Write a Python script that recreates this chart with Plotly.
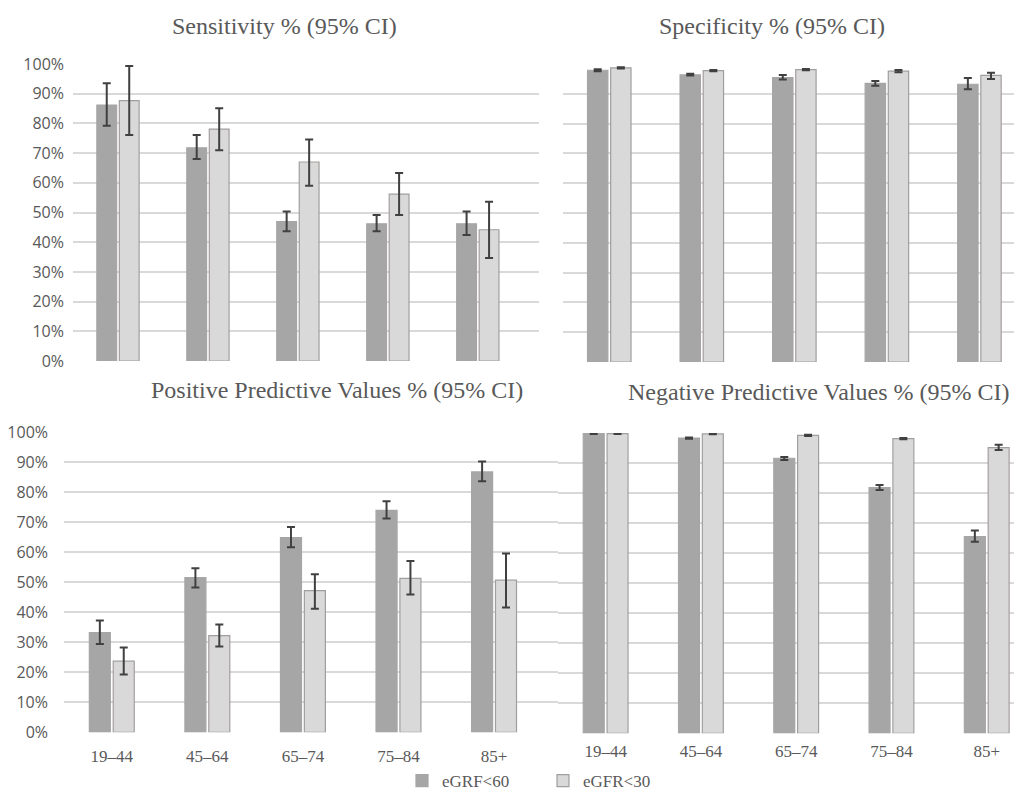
import plotly.graph_objects as go

categories = ["19–44", "45–64", "65–74", "75–84", "85+"]
series_names = ["eGRF<60", "eGFR<30"]

sens_60 = [86.2, 71.8, 46.9, 46.2, 46.2]
sens_60_lo = [79.2, 68.0, 43.7, 43.7, 42.4]
sens_60_hi = [93.5, 76.1, 50.3, 49.2, 50.3]
sens_30 = [87.7, 78.1, 67.0, 56.2, 44.2]
sens_30_lo = [76.1, 71.0, 59.0, 49.2, 34.7]
sens_30_hi = [99.3, 85.1, 74.6, 63.3, 53.6]

spec_60 = [97.9, 96.4, 95.4, 93.5, 93.2]
spec_60_lo = [97.6, 96.1, 94.8, 92.7, 91.5]
spec_60_hi = [98.2, 96.7, 96.3, 94.3, 95.3]
spec_30 = [98.7, 97.8, 98.1, 97.6, 96.2]
spec_30_lo = [98.5, 97.6, 97.9, 97.2, 95.0]
spec_30_hi = [98.9, 98.0, 98.3, 98.0, 97.1]

ppv_60 = [33.2, 51.6, 64.9, 74.0, 86.8]
ppv_60_lo = [29.4, 48.3, 61.7, 71.3, 83.7]
ppv_60_hi = [37.3, 54.7, 68.4, 77.0, 90.3]
ppv_30 = [23.7, 32.2, 47.2, 51.3, 50.7]
ppv_30_lo = [19.3, 28.6, 41.2, 45.9, 41.6]
ppv_30_hi = [28.3, 35.9, 52.7, 57.1, 59.6]

npv_60 = [99.8, 98.3, 91.6, 81.8, 65.5]
npv_60_lo = [99.7, 98.1, 91.0, 81.0, 63.8]
npv_60_hi = [99.9, 98.5, 92.0, 82.7, 67.5]
npv_30 = [99.8, 99.7, 99.2, 98.1, 95.1]
npv_30_lo = [99.7, 99.6, 99.0, 97.9, 94.3]
npv_30_hi = [99.9, 99.8, 99.4, 98.3, 96.1]

panel_titles = ["Sensitivity % (95% CI)", "Specificity % (95% CI)",
                "Positive Predictive Values % (95% CI)", "Negative Predictive Values % (95% CI)"]

# page body has an 8px margin; the figure is sized so that it fills the window
OFF = 8
W, H = 1022 - OFF, 790 - OFF
def fx(px): return (px - OFF) / W
def fy(py): return 1 - (py - OFF) / H

DARK = "#a6a6a6"
LIGHT = "#d9d9d9"
EDGE = "#a39e9e"
ERR = "#404040"
TXT = "#595959"
GRID = "#d9d9d9"
SERIF = "Liberation Serif"
SANS = "Open Sans"

fig = go.Figure()

panels = [
    ("x", "y", (sens_60, sens_60_lo, sens_60_hi), (sens_30, sens_30_lo, sens_30_hi)),
    ("x2", "y2", (spec_60, spec_60_lo, spec_60_hi), (spec_30, spec_30_lo, spec_30_hi)),
    ("x3", "y3", (ppv_60, ppv_60_lo, ppv_60_hi), (ppv_30, ppv_30_lo, ppv_30_hi)),
    ("x4", "y4", (npv_60, npv_60_lo, npv_60_hi), (npv_30, npv_30_lo, npv_30_hi)),
]

for i, (xa, ya, s60, s30) in enumerate(panels):
    for j, (vals, lo, hi) in enumerate([s60, s30]):
        fig.add_trace(go.Bar(
            x=categories, y=vals, name=series_names[j], xaxis=xa, yaxis=ya,
            marker=dict(color=DARK if j == 0 else LIGHT,
                        line=dict(color=DARK if j == 0 else EDGE, width=1.2)),
            error_y=dict(type="data", symmetric=False,
                         array=[h - v for h, v in zip(hi, vals)],
                         arrayminus=[v - l for v, l in zip(vals, lo)],
                         color=ERR, thickness=2, width=4),
            showlegend=(i == 0),
            legend="legend" if j == 0 else "legend2",
        ))

def yaxis(dom, labels, anchor, standoff=8):
    return dict(domain=dom, range=[0, 100], anchor=anchor, tickvals=list(range(0, 101, 10)),
                ticktext=[f"{v}%" for v in range(0, 101, 10)],
                showticklabels=labels, showgrid=True, gridcolor=GRID, gridwidth=1.5,
                zeroline=False, showline=False, ticks="", ticklabelstandoff=standoff,
                tickfont=dict(family=SANS, size=16, color=TXT), fixedrange=True)

def xaxis(dom, rng, labels, anchor, standoff=12):
    return dict(domain=dom, range=rng, anchor=anchor, type="category",
                showticklabels=labels, showgrid=False, zeroline=False, showline=False,
                ticks="", ticklabelstandoff=standoff,
                tickfont=dict(family=SERIF, size=17, color=TXT), fixedrange=True)

fig.update_layout(
    width=W, height=H, margin=dict(l=0, r=0, t=0, b=0, autoexpand=False),
    paper_bgcolor="white", plot_bgcolor="white",
    barmode="group", bargap=0.5, bargroupgap=0.12,
    xaxis=xaxis([fx(73), fx(539)], [-0.5, 4.68], False, "y"),
    yaxis=yaxis([fy(361), fy(64)], True, "x", 8),
    xaxis2=xaxis([fx(563), 1.0], [-0.5, 4.46], False, "y2"),
    yaxis2=yaxis([fy(362), fy(64)], False, "x2"),
    xaxis3=xaxis([fx(64), fx(560)], [-0.5, 4.69], True, "y3", 12),
    yaxis3=yaxis([fy(732.3), fy(432.3)], True, "x3", 15),
    xaxis4=xaxis([fx(558), 1.0], [-0.5, 4.37], True, "y4", 6),
    yaxis4=yaxis([fy(733.3), fy(433)], False, "x4"),
    legend=dict(orientation="h", x=fx(402), y=fy(781), xanchor="left", yanchor="middle",
                font=dict(family=SERIF, size=17, color=TXT), bgcolor="rgba(0,0,0,0)",
                itemwidth=30),
    legend2=dict(orientation="h", x=fx(543), y=fy(781), xanchor="left", yanchor="middle",
                 font=dict(family=SERIF, size=17, color=TXT), bgcolor="rgba(0,0,0,0)",
                 itemwidth=30),
)

title_pos = [(284, 26), (772, 26), (337, 390), (818, 392)]
for t, (cx, cy) in zip(panel_titles, title_pos):
    fig.add_annotation(text=t, x=fx(cx), y=fy(cy), xref="paper", yref="paper",
                       showarrow=False, xanchor="center", yanchor="middle",
                       font=dict(family=SERIF, size=24, color=TXT))

fig.write_html("out.html")
